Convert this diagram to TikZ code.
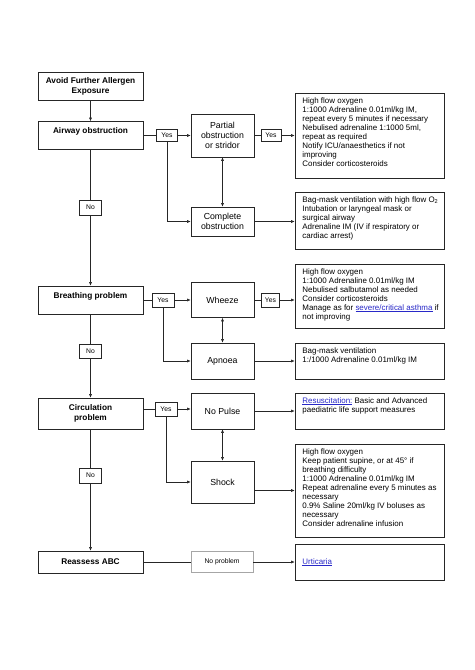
\documentclass[tikz,border=0pt]{standalone}
\usepackage{fontspec}
\setmainfont{Liberation Sans}
\usetikzlibrary{arrows.meta}
\definecolor{linkblue}{RGB}{40,40,200}
\definecolor{edgec}{gray}{0.15}
\newcommand{\lnk}[1]{\textcolor{linkblue}{\underline{#1}}}
\tikzset{
  wh/.style 2 args={minimum width=#1*1.256pt,minimum height=#2*1.256pt},
  box/.style={draw=edgec,line width=0.8pt,inner sep=0pt,align=center},
  mainbox/.style={box,font=\fontsize{10.4}{12.5}\selectfont\bfseries},
  midbox/.style={box,font=\fontsize{11}{12.8}\selectfont},
  rbox/.style={box},
  rtext/.style={inner sep=0pt,anchor=north west,font=\fontsize{10}{11.3}\selectfont,align=left},
  lbl/.style={draw=edgec,line width=0.6pt,inner sep=0pt,font=\fontsize{8.5}{10}\selectfont,fill=white},
  conn/.style={line width=0.8pt,draw=edgec},
  arr/.style={conn,-{Latex[length=4.5pt,width=4pt]}},
  darr/.style={conn,{Latex[length=4.5pt,width=4pt]}-{Latex[length=4.5pt,width=4pt]}}
}
\begin{document}
\begin{tikzpicture}[x=1.256pt,y=-1.256pt]
\fill[white] (0,0) rectangle (474,670);
\useasboundingbox (0,0) rectangle (474,670);

% left column
\node[mainbox,wh={105}{28}] (avoid) at (90.5,86) {Avoid Further Allergen\\Exposure};
\node[mainbox,wh={105}{28}] (airway) at (90.5,135.5) {Airway obstruction\\\mbox{}};
\node[mainbox,wh={105}{28}] (breathing) at (90.5,300) {Breathing problem\\\mbox{}};
\node[mainbox,wh={105}{31}] (circulation) at (90.5,413.5) {Circulation\\problem};
\node[mainbox,wh={105}{22}] (reassess) at (90.5,562) {Reassess ABC};

% middle column
\node[midbox,wh={63}{43}] (partial) at (222.5,135.5) {Partial\\obstruction\\or stridor};
\node[midbox,wh={63}{29}] (complete) at (222.5,221.5) {Complete\\obstruction};
\node[midbox,wh={63}{35}] (wheeze) at (222.5,300) {Wheeze};
\node[midbox,wh={63}{36}] (apnoea) at (222.5,361) {Apnoea};
\node[midbox,wh={63}{36}] (nopulse) at (222.5,411) {No Pulse};
\node[midbox,wh={63}{42}] (shock) at (222.5,482) {Shock};
\node[box,draw=gray!70,font=\fontsize{8.5}{10}\selectfont,wh={62}{21}] (noproblem) at (222,562) {No problem};

% right column
\node[rbox,wh={149}{85}] (r1) at (369.5,135.5) {};
\node[rtext] (r1t) at ([xshift=9.5pt,yshift=-6pt]r1.north west) {High flow oxygen\\1:1000 Adrenaline 0.01ml/kg IM,\\repeat every 5 minutes if necessary\\Nebulised adrenaline 1:1000 5ml,\\repeat as required\\Notify ICU/anaesthetics if not\\improving\\Consider corticosteroids};
\node[rbox,wh={149}{57}] (r2) at (369.5,220.5) {};
\node[rtext] (r2t) at ([xshift=9.5pt,yshift=-6pt]r2.north west) {Bag-mask ventilation with high flow O\textsubscript{2}\\Intubation or laryngeal mask or\\surgical airway\\Adrenaline IM (IV if respiratory or\\cardiac arrest)};
\node[rbox,wh={149}{64}] (r3) at (369.5,296) {};
\node[rtext] (r3t) at ([xshift=9.5pt,yshift=-6pt]r3.north west) {High flow oxygen\\1:1000 Adrenaline 0.01ml/kg IM\\Nebulised salbutamol as needed\\Consider corticosteroids\\Manage as for \lnk{severe/critical asthma} if\\not improving};
\node[rbox,wh={149}{36}] (r4) at (369.5,361) {};
\node[rtext] (r4t) at ([xshift=9.5pt,yshift=-6pt]r4.north west) {Bag-mask ventilation\\1:/1000 Adrenaline 0.01ml/kg IM};
\node[rbox,wh={149}{36}] (r5) at (369.5,411) {};
\node[rtext] (r5t) at ([xshift=9.5pt,yshift=-6pt]r5.north west) {\lnk{Resuscitation:} Basic and Advanced\\paediatric life support measures};
\node[rbox,wh={149}{93}] (r6) at (369.5,490.5) {};
\node[rtext] (r6t) at ([xshift=9.5pt,yshift=-6pt]r6.north west) {High flow oxygen\\Keep patient supine, or at 45° if\\breathing difficulty\\1:1000 Adrenaline 0.01ml/kg IM\\Repeat adrenaline every 5 minutes as\\necessary\\0.9\% Saline 20ml/kg IV boluses as\\necessary\\Consider adrenaline infusion};
\node[rbox,wh={149}{36}] (r7) at (369.5,562) {};
\node[rtext,anchor=west] (r7t) at ([xshift=9.5pt]r7.west) {\lnk{Urticaria}};

% labels
\node[lbl,wh={21}{12}] (yesA) at (167,135.5) {Yes};
\node[lbl,wh={20}{12}] (yesB) at (271,135.5) {Yes};
\node[lbl,wh={22}{15}] (noA) at (90.5,207.5) {No};
\node[lbl,wh={22}{14}] (yesC) at (163,300) {Yes};
\node[lbl,wh={18}{14}] (yesD) at (270.5,300) {Yes};
\node[lbl,wh={22}{14}] (noB) at (90.5,351) {No};
\node[lbl,wh={22}{14}] (yesE) at (166,409) {Yes};
\node[lbl,wh={22}{15}] (noC) at (90.5,475.5) {No};

% connectors: airway
\draw[arr] (avoid) -- (airway);
\draw[conn] (airway) -- (yesA);
\draw[arr] (yesA) -- (partial);
\draw[arr] (yesA.south) |- (complete.west);
\draw[darr] (partial) -- (complete);
\draw[conn] (partial) -- (yesB);
\draw[arr] (yesB) -- (r1);
\draw[arr] (complete.east) -- (complete.east -| r2.west);
\draw[conn] (airway) -- (noA);
\draw[arr] (noA) -- (breathing);
% breathing
\draw[conn] (breathing) -- (yesC);
\draw[arr] (yesC) -- (wheeze);
\draw[arr] (yesC.south) |- (apnoea.west);
\draw[darr] (wheeze) -- (apnoea);
\draw[conn] (wheeze) -- (yesD);
\draw[arr] (yesD) -- (yesD -| r3.west);
\draw[arr] (apnoea) -- (r4);
\draw[conn] (breathing) -- (noB);
\draw[arr] (noB) -- (circulation);
% circulation
\draw[conn] (yesE -| circulation.east) -- (yesE);
\draw[arr] (yesE) -- (yesE -| nopulse.west);
\draw[arr] (yesE.south) |- (shock.west);
\draw[darr] (nopulse) -- (shock);
\draw[arr] (nopulse) -- (r5);
\draw[arr] (r6.west -| shock.east) -- (r6.west);
\draw[conn] (circulation) -- (noC);
\draw[arr] (noC) -- (reassess);
% reassess
\draw[conn] (reassess) -- (noproblem);
\draw[arr] (noproblem) -- (r7);
\end{tikzpicture}
\end{document}
